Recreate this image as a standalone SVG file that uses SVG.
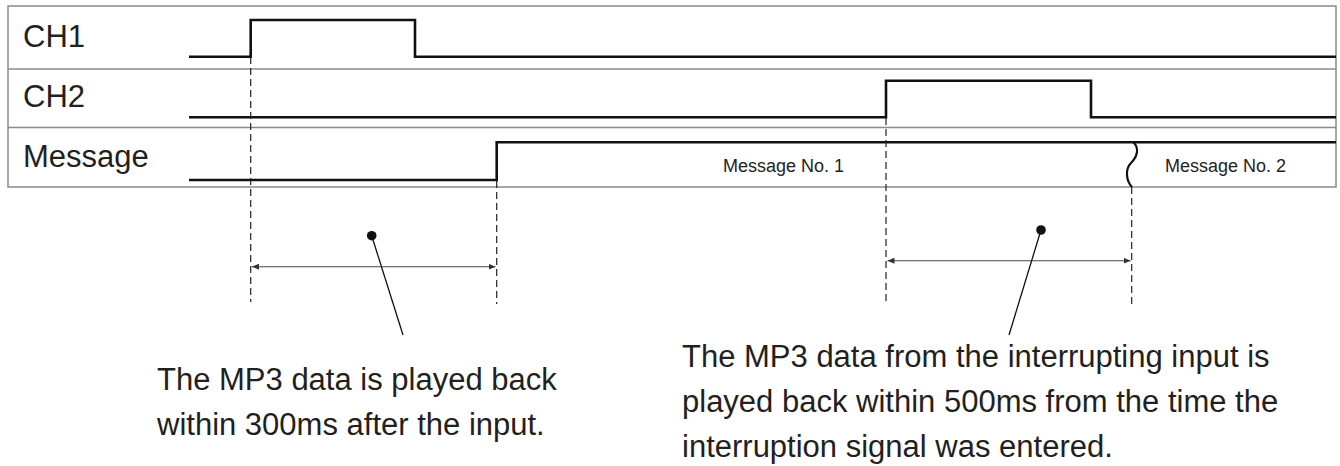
<svg xmlns="http://www.w3.org/2000/svg" width="1340" height="466" viewBox="0 0 1340 466">
<style>
.frame{fill:none;stroke:#8a8a8a;stroke-width:1.5}
.sig{fill:none;stroke:#111;stroke-width:2.6;stroke-linejoin:miter}
.dash{fill:none;stroke:#222;stroke-width:1.2;stroke-dasharray:7,4}
.dim{fill:none;stroke:#444;stroke-width:1.1}
.lead{fill:none;stroke:#111;stroke-width:1.3}
.lbl{font-family:"Liberation Sans",Arial,sans-serif;font-size:31px;fill:#231f20}
.small{font-family:"Liberation Sans",Arial,sans-serif;font-size:18px;fill:#231f20}
</style>
<defs>
<marker id="ah" markerWidth="8" markerHeight="6" refX="7" refY="3" orient="auto-start-reverse" markerUnits="userSpaceOnUse">
<path d="M0,0 L7,3 L0,6 Z" fill="#333"/>
</marker>
</defs>
<g id="frame">
<rect class="frame" x="8" y="6" width="1328" height="181"/>
<line class="frame" x1="8" y1="69" x2="1336" y2="69"/>
<line class="frame" x1="8" y1="127.5" x2="1336" y2="127.5"/>
</g>
<g id="ch1">
<text class="lbl" x="23" y="47">CH1</text>
<path class="sig" d="M189,56.7 H250.7 V20 H415 V56.7 H1336"/>
</g>
<g id="ch2">
<text class="lbl" x="23" y="107">CH2</text>
<path class="sig" d="M189,117.3 H886 V80.7 H1091 V117.3 H1336"/>
</g>
<g id="message">
<text class="lbl" x="23" y="167">Message</text>
<path class="sig" d="M189,180 H496.7 V142.3 H1336"/>
<text class="small" x="723" y="172">Message No. 1</text>
<text class="small" x="1165" y="172">Message No. 2</text>
<path fill="none" stroke="#111" stroke-width="2.2" d="M1133,142 C1140,148 1137,157 1131,163 C1125,169 1126,181 1132,187"/>
</g>
<g id="connectors">
<line class="dash" x1="250.7" y1="57" x2="250.7" y2="302"/>
<line class="dash" x1="496.7" y1="181" x2="496.7" y2="304"/>
<line class="dash" x1="886" y1="118" x2="886" y2="305"/>
<line class="dash" x1="1131.7" y1="187" x2="1131.7" y2="305"/>
<line class="dim" x1="252" y1="266.7" x2="495.5" y2="266.7" marker-start="url(#ah)" marker-end="url(#ah)"/>
<line class="dim" x1="887.5" y1="260.7" x2="1130.5" y2="260.7" marker-start="url(#ah)" marker-end="url(#ah)"/>
<circle cx="371.7" cy="235.7" r="4.8" fill="#111"/>
<line class="lead" x1="371.7" y1="235.7" x2="403" y2="335"/>
<circle cx="1041" cy="230" r="4.8" fill="#111"/>
<line class="lead" x1="1041" y1="230" x2="1009" y2="335"/>
</g>
<g id="note1">
<text class="lbl" x="157" y="390">The MP3 data is played back</text>
<text class="lbl" x="157" y="435">within 300ms after the input.</text>
</g>
<g id="note2">
<text class="lbl" x="682" y="367">The MP3 data from the interrupting input is</text>
<text class="lbl" x="682" y="412">played back within 500ms from the time the</text>
<text class="lbl" x="682" y="457">interruption signal was entered.</text>
</g>
</svg>
